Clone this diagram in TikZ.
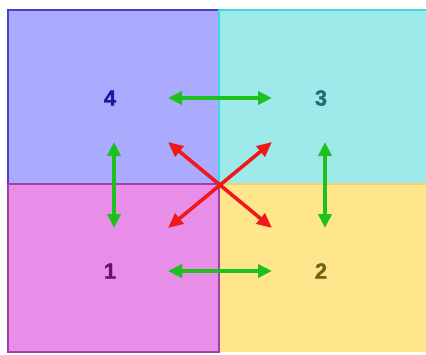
\documentclass[tikz,border=0pt]{standalone}
\usepackage{fontspec}
\setmainfont{Liberation Sans}
\newfontfamily\lblfont{Liberation Sans}[UprightFont=*-Bold, FakeBold=1.5]
\usetikzlibrary{arrows.meta}
\definecolor{qblue}{HTML}{AAAAFF}
\definecolor{qblueb}{HTML}{4B3FC8}
\definecolor{qcyan}{HTML}{9EEAEA}
\definecolor{qcyanb}{HTML}{3CD8E0}
\definecolor{qpink}{HTML}{E88EE8}
\definecolor{qpinkb}{HTML}{A040A8}
\definecolor{qyel}{HTML}{FFE58C}
\definecolor{qyelb}{HTML}{F0D070}
\definecolor{tblue}{HTML}{1A1AA0}
\definecolor{tteal}{HTML}{1C6E78}
\definecolor{tpurp}{HTML}{6A1070}
\definecolor{tolive}{HTML}{6E6418}
\definecolor{agreen}{HTML}{1EC01E}
\definecolor{ared}{HTML}{F01818}
\tikzset{
  quad/.style={line width=1.2pt},
  lbl/.style={font=\lblfont\fontsize{22}{22}\selectfont, inner sep=0pt},
  garrow/.style={draw=agreen, line width=3.6pt, {Triangle[length=14pt,width=13pt]}-{Triangle[length=14pt,width=13pt]}},
  rarrow/.style={draw=ared, line width=3.6pt, {Triangle[length=15pt,width=13pt]}-{Triangle[length=15pt,width=13pt]}},
}
\begin{document}
\begin{tikzpicture}[x=1pt,y=-1pt]
\useasboundingbox[fill=white] (0,0) rectangle (426,354);
\fill[qblue] (8,10) rectangle (219,184);
\fill[qcyan] (219,10) rectangle (430,184);
\fill[qpink] (8,184) rectangle (219,352);
\fill[qyel] (219,184) rectangle (430,352);
\draw[quad, draw=qblueb] (219,10) -- (8,10) -- (8,184);
\draw[quad, draw=qcyanb] (219,184) -- (219,10) -- (430,10);
\draw[quad, draw=qyelb] (219,184) -- (430,184);
\draw[quad, draw=qpinkb] (8,184) -- (219,184) -- (219,352) -- (8,352) -- cycle;
\node[lbl, text=tblue] (n4) at (110,98) {4};
\node[lbl, text=tteal] (n3) at (321,98) {3};
\node[lbl, text=tpurp] (n1) at (110,271) {1};
\node[lbl, text=tolive] (n2) at (321,271) {2};
\coordinate (ht1) at (168,98);
\coordinate (ht2) at (272,98);
\coordinate (hb1) at (168,271);
\coordinate (hb2) at (272,271);
\coordinate (vl1) at (114,142);
\coordinate (vl2) at (114,228);
\coordinate (vr1) at (325,142);
\coordinate (vr2) at (325,228);
\coordinate (d1) at (168,142);
\coordinate (d2) at (272,228);
\coordinate (d3) at (272,142);
\coordinate (d4) at (168,228);
\draw[garrow] (ht1) -- (ht2);
\draw[garrow] (hb1) -- (hb2);
\draw[garrow] (vl1) -- (vl2);
\draw[garrow] (vr1) -- (vr2);
\draw[rarrow] (d1) -- (d2);
\draw[rarrow] (d3) -- (d4);
\end{tikzpicture}
\end{document}
